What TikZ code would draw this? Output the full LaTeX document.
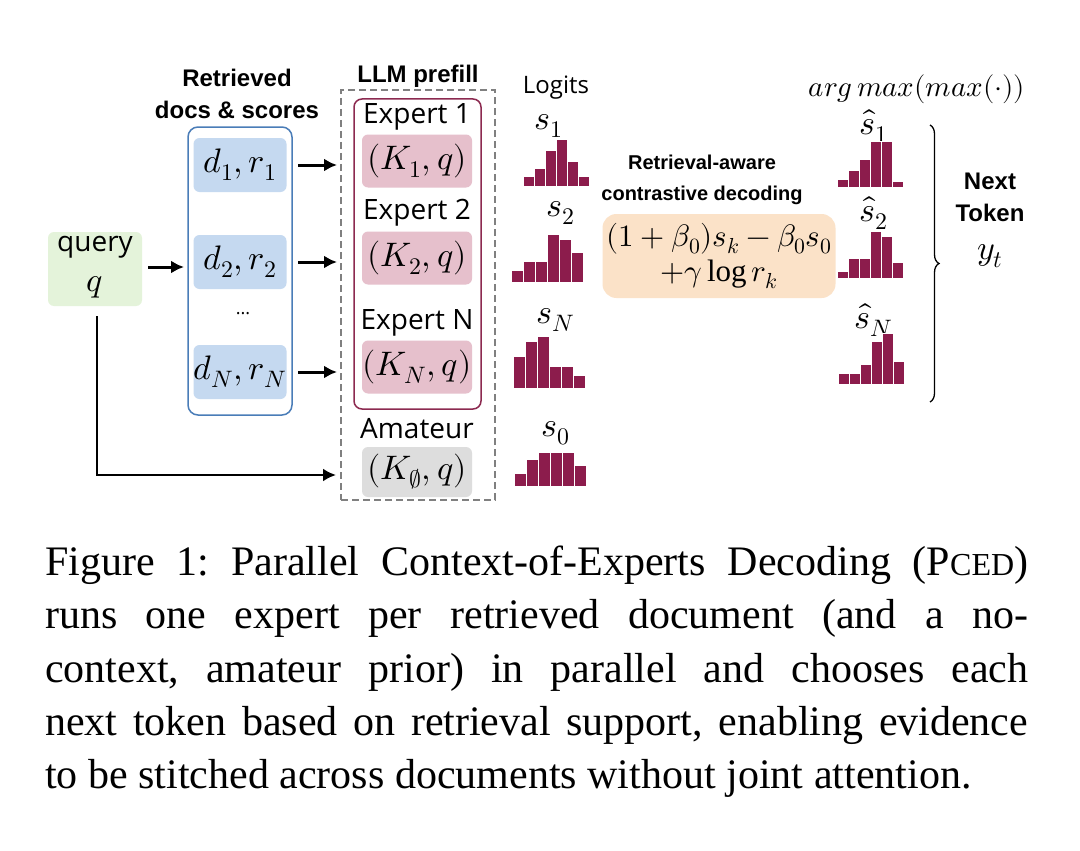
\documentclass[tikz,border=0pt]{standalone}
\usepackage{fontspec}
\usepackage{amsmath}
\usepackage{unicode-math}
\setmainfont{Liberation Serif}
\setmathfont{Latin Modern Math}
\newfontfamily\mysf{Open Sans}
\newfontfamily\mybsf{Liberation Sans}
\usetikzlibrary{arrows.meta,decorations.pathreplacing}
\definecolor{bar}{HTML}{8C1C4C}
\definecolor{qfill}{HTML}{E4F3DA}
\definecolor{dfill}{HTML}{C5D9F0}
\definecolor{dline}{HTML}{4A7DB8}
\definecolor{kfill}{HTML}{E6C0CC}
\definecolor{kline}{HTML}{8C2A50}
\definecolor{gfill}{HTML}{DDDDDD}
\definecolor{ofill}{HTML}{FBE2C8}
\newcommand\myhist[4]{%
  \foreach \h [count=\i from 0] in {#4}
    \fill[bar,draw=white,line width=0.8pt] ({#1+\i*#3},#2) rectangle ++(#3,-\h);}
\begin{document}
\begin{tikzpicture}[x=1pt,y=-1pt,
  box/.style={rounded corners=6pt,inner sep=0pt},
  lab/.style={font=\mysf\fontsize{28}{30}\selectfont},
  ttl/.style={font=\mybsf\bfseries\fontsize{24}{32}\selectfont,align=center},
  mth/.style={font=\fontsize{34}{36}\selectfont},
  arr/.style={-{Latex[length=13pt,width=13pt]},line width=3pt}]
\useasboundingbox (0,0) rectangle (1080,851);
\fill[white] (0,0) rectangle (1080,851);
% query
\node[box,fill=qfill,minimum width=94pt,minimum height=74pt] (q) at (95,269) {};
\node[lab] at (95,247) {query};
\node[mth] at (95,287) {$q$};
% docs
\node[box,draw=dline,line width=1.5pt,minimum width=104pt,minimum height=288pt,rounded corners=10pt] (docs) at (240,271) {};
\node[ttl] at (237,94) {Retrieved\\docs \& scores};
\node[box,fill=dfill,minimum width=93pt,minimum height=54pt,mth] (d1) at (240,165) {$d_1,r_1$};
\node[box,fill=dfill,minimum width=93pt,minimum height=54pt,mth] (d2) at (240,262) {$d_2,r_2$};
\node[box,fill=dfill,minimum width=93pt,minimum height=54pt,mth] (dN) at (240,372) {$d_N,r_N$};
\node[font=\mysf\fontsize{18}{20}\selectfont] (dots) at (243,314) {...};
% LLM prefill
\node[draw=gray,dash pattern=on 7pt off 4pt,line width=1.4pt,minimum width=154pt,minimum height=410pt,inner sep=0pt] (llm) at (418,295) {};
\node[ttl] at (418,76) {LLM prefill};
\node[draw=kline,line width=1.5pt,rounded corners=8pt,minimum width=127pt,minimum height=310pt,inner sep=0pt] (exp) at (417.5,254) {};
\node[lab] at (417,117) {Expert 1};
\node[lab] at (417,213) {Expert 2};
\node[lab] at (417,323) {Expert N};
\node[lab] at (417,429) {Amateur};
\node[box,fill=kfill,minimum width=110pt,minimum height=53pt,mth] (k1) at (417,161) {$(K_1,q)$};
\node[box,fill=kfill,minimum width=110pt,minimum height=53pt,mth] (k2) at (417,258) {$(K_2,q)$};
\node[box,fill=kfill,minimum width=110pt,minimum height=53pt,mth] (kN) at (417,367) {$(K_N,q)$};
\node[box,fill=gfill,minimum width=110pt,minimum height=50pt,mth] (k0) at (417,472) {$(K_{\varnothing},q)$};
% arrows
\coordinate (qa) at (148,267); \coordinate (qb) at (184,267);
\draw[arr] (qa) -- (qb);
\coordinate (a1) at (298,165); \coordinate (b1) at (337,165);
\coordinate (a2) at (298,262); \coordinate (b2) at (337,262);
\coordinate (a3) at (298,372); \coordinate (b3) at (337,372);
\draw[arr] (a1) -- (b1); \draw[arr] (a2) -- (b2); \draw[arr] (a3) -- (b3);
\coordinate (qd) at (97,316); \coordinate (qc) at (97,475); \coordinate (qe) at (336,475);
\draw[arr,line width=2.5pt] (qd) -- (qc) -- (qe);
% logits
\node[font=\mysf\fontsize{24}{26}\selectfont] at (556,88) {Logits};
\node[mth] at (549,126) {$s_1$};
\node[mth] at (561,213) {$s_2$};
\node[mth] at (556,320) {$s_N$};
\node[mth] at (556,433) {$s_0$};
\myhist{523}{186}{11}{10,18,36,47,25,10}
\myhist{511}{282}{12}{12,21,21,48,43,30}
\myhist{513}{388}{12}{32,47,52,22,22,13}
\myhist{514}{486}{12}{13,27,34,34,34,21}
% contrastive
\node[ttl,font=\mybsf\bfseries\fontsize{20}{31}\selectfont] at (702,180) {Retrieval-aware\\contrastive decoding};
\node[box,fill=ofill,rounded corners=14pt,minimum width=233pt,minimum height=84pt,align=center,font=\fontsize{31}{35}\selectfont] (cd) at (719,256) {$(1+\beta_0)s_k-\beta_0 s_0$\\$+\gamma\log r_k$};
% right
\node[font=\fontsize{29}{30}\selectfont] at (917,89) {$arg\,max(max(\cdot))$};
\node[mth] at (874,126) {$\hat s_1$};
\node[mth] at (874,213) {$\hat s_2$};
\node[mth] at (874,320) {$\hat s_N$};
\myhist{837}{187}{11}{8,17,28,46,46,6}
\myhist{837}{278}{11}{7,20,20,47,42,16}
\myhist{838}{384}{11}{11,11,20,43,51,23}
\coordinate (br1) at (930,125); \coordinate (br2) at (930,402);
\draw[decorate,decoration={brace,amplitude=9pt},line width=1.3pt] (br1) -- (br2);
\node[ttl] at (990,197) {Next\\Token};
\node[mth] at (990,256) {$y_t$};
% caption
\node[anchor=north west,inner sep=0pt,text width=983pt,align=justify,font=\fontsize{42}{53.2}\selectfont] (cap) at (45,546) {\frenchspacing\parfillskip=0pt Figure 1: Parallel Context-of-Experts Decoding (P{\fontsize{32}{32}\selectfont CED})\linebreak runs one expert per retrieved document (and a no-\linebreak context, amateur prior) in parallel and chooses each\linebreak next token based on retrieval support, enabling evidence\linebreak to be stitched across documents without joint attention.};
\end{tikzpicture}
\end{document}
